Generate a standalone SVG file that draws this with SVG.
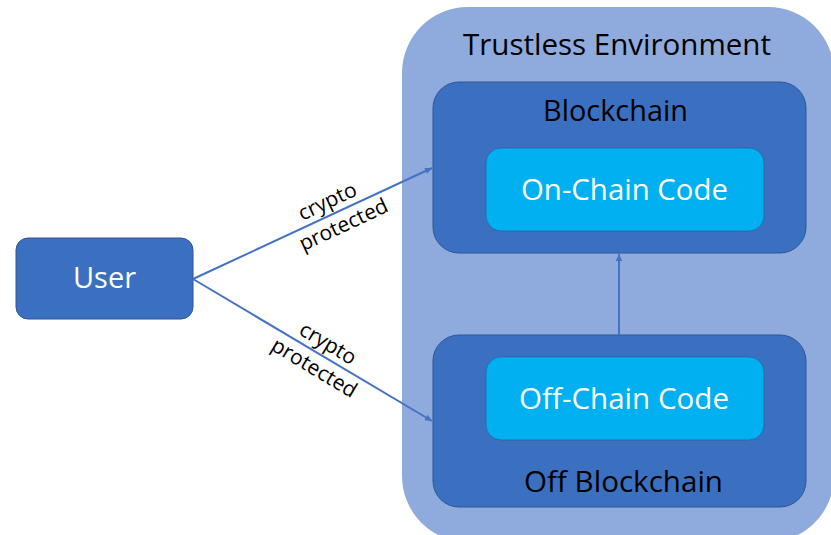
<svg xmlns="http://www.w3.org/2000/svg" width="831" height="535" viewBox="0 0 831 535">
  <defs>
    <marker id="arrow" markerWidth="8" markerHeight="8" refX="7" refY="4" orient="auto" markerUnits="userSpaceOnUse">
      <path d="M0,0.8 L7,4 L0,7.2 Z" fill="#4472C4"/>
    </marker>
    <style>
      .container { fill: #8FAADC; }
      .dark { fill: #3B70C1; stroke: #2F5597; stroke-width: 1; }
      .code { fill: #00B0F0; stroke: #2F5597; stroke-width: 0.6; }
      .t { font-family: "Open Sans", "Liberation Sans", sans-serif; text-anchor: middle; }
      .black { fill: #000000; font-size: 30px; }
      .white { fill: #FFFFFF; font-size: 30px; }
      .label { fill: #000000; font-size: 21px; }
      .edge { stroke: #4472C4; stroke-width: 2; fill: none; marker-end: url(#arrow); }
    </style>
  </defs>
  <rect width="831" height="535" fill="#FFFFFF"/>

  <g id="trustless-environment">
    <rect class="container" x="402" y="7" width="432" height="535" rx="66" ry="66"/>
    <text class="t black" x="617" y="55" textLength="308" lengthAdjust="spacingAndGlyphs">Trustless Environment</text>
  </g>

  <g id="blockchain">
    <rect class="dark" x="433" y="82" width="373" height="171" rx="26" ry="26"/>
    <text class="t black" x="615.5" y="121" textLength="145" lengthAdjust="spacingAndGlyphs">Blockchain</text>
  </g>

  <g id="on-chain-code">
    <rect class="code" x="486" y="148" width="278" height="83" rx="15" ry="15"/>
    <text class="t white" x="624.5" y="200" textLength="207" lengthAdjust="spacingAndGlyphs">On-Chain Code</text>
  </g>

  <g id="off-blockchain">
    <rect class="dark" x="433" y="335" width="373" height="172" rx="26" ry="26"/>
    <text class="t black" x="623.5" y="492" textLength="199" lengthAdjust="spacingAndGlyphs">Off Blockchain</text>
  </g>

  <g id="off-chain-code">
    <rect class="code" x="486" y="357" width="278" height="83" rx="15" ry="15"/>
    <text class="t white" x="624" y="409" textLength="210" lengthAdjust="spacingAndGlyphs">Off-Chain Code</text>
  </g>

  <g id="user">
    <rect class="dark" x="16" y="238" width="177" height="81" rx="12" ry="12"/>
    <text class="t white" x="104.5" y="288" textLength="63" lengthAdjust="spacingAndGlyphs">User</text>
  </g>

  <g id="connectors">
    <line class="edge" x1="193" y1="279" x2="432" y2="168"/>
    <line class="edge" x1="193" y1="279" x2="432" y2="421"/>
    <line class="edge" x1="619" y1="335" x2="619" y2="254"/>
    <text class="t label" transform="translate(338,213) rotate(-25)">
      <tspan x="-2" y="-8">crypto</tspan>
      <tspan x="0" y="20">protected</tspan>
    </text>
    <text class="t label" transform="translate(322,355) rotate(31)">
      <tspan x="2" y="-6">crypto</tspan>
      <tspan x="0" y="22">protected</tspan>
    </text>
  </g>
</svg>
